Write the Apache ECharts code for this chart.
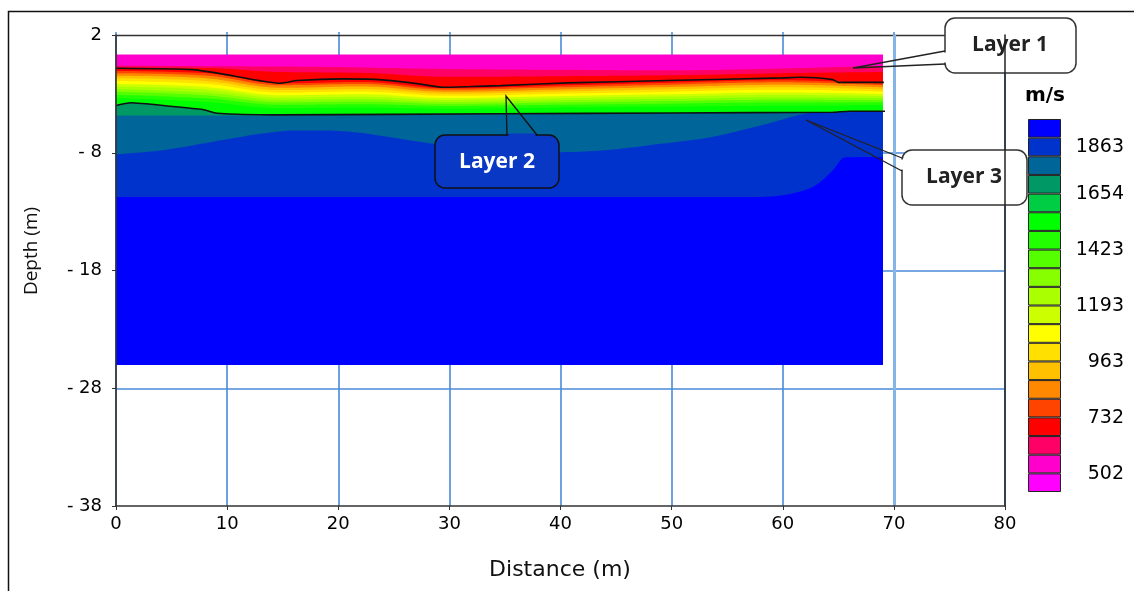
<!DOCTYPE html>
<html><head><meta charset="utf-8">
<script src="https://cdn.jsdelivr.net/npm/echarts@6/dist/echarts.min.js"></script>
<style>html,body{margin:0;padding:0;background:#fff}#c{width:1134px;height:591px}</style>
</head><body><div id="c"></div>
<script>
// ---------------- data ----------------
const yTickValues = [2, -8, -18, -28, -38];
const yTickLabels = ['2', '- 8', '- 18', '- 28', '- 38'];
const velocityLabels = ['502', '732', '963', '1193', '1423', '1654', '1863'];
const velocityLabelCell = [0.95, 3.95, 6.95, 9.95, 12.95, 15.95, 18.5];
// colour classes, low velocity -> high velocity
const palette = ['#ff00ff','#ff00cc','#ff0066','#ff0000','#ff4400','#ff8800','#ffc000','#ffe000','#ffff00','#ccff00',
                 '#aaff00','#88ff00','#55ff00','#22ff00','#00ff00','#00cc44','#009966','#006699','#0033cc','#0000ff'];

// upper boundaries of the velocity bands (distance m, depth m)
const bandX      = [0, 8, 15, 22, 30, 40, 50, 60, 69.02];
const edgeTop    = [0.35, 0.35, 0.35, 0.35, 0.35, 0.35, 0.35, 0.35, 0.35];
const edgeC2     = [-0.62, -0.65, -0.68, -0.75, -0.88, -0.95, -1.00, -0.85, -0.62];
const edgeC3     = [-0.75, -0.80, -1.15, -1.20, -1.55, -1.50, -1.42, -1.25, -1.15];
const edgeC4     = [-1.05, -1.23, -2.10, -1.99, -2.52, -2.28, -2.05, -1.85, -2.13];
const edgeC5     = [-1.24, -1.44, -2.27, -2.17, -2.66, -2.44, -2.22, -2.02, -2.28];
const edgeC6     = [-1.46, -1.67, -2.48, -2.37, -2.82, -2.62, -2.42, -2.23, -2.45];
const edgeC7     = [-1.68, -1.90, -2.68, -2.58, -2.99, -2.80, -2.61, -2.44, -2.63];
const edgeC8     = [-1.90, -2.14, -2.88, -2.79, -3.16, -2.98, -2.81, -2.65, -2.81];
const edgeC9     = [-2.16, -2.41, -3.11, -3.03, -3.35, -3.18, -3.03, -2.88, -3.01];
const edgeC10    = [-2.38, -2.64, -3.31, -3.24, -3.51, -3.36, -3.22, -3.09, -3.18];
const edgeC11    = [-2.60, -2.88, -3.51, -3.44, -3.68, -3.54, -3.42, -3.30, -3.36];
const edgeC12    = [-2.82, -3.11, -3.71, -3.65, -3.84, -3.73, -3.61, -3.50, -3.54];
const edgeC13    = [-3.07, -3.38, -3.94, -3.89, -4.03, -3.93, -3.83, -3.74, -3.74];
const edgeC14    = [-3.36, -3.68, -4.20, -4.16, -4.25, -4.16, -4.08, -4.01, -3.97];
const edgeC16    = [[0,-3.99],[1.3,-3.76],[4.9,-4.05],[7.8,-4.33],[9.1,-4.64],[14.5,-4.78],[34.6,-4.69],[50,-4.62],
                    [64.5,-4.56],[66,-4.47],[69.02,-4.47]];
const edgeC17    = [[0,-4.84],[13,-4.84],[14.5,-4.78],[34.6,-4.69],[50,-4.62],[64.5,-4.56],[66,-4.47],[69.02,-4.47]];
const edgeC18    = [[0,-8.14],[4,-7.81],[8.5,-7.10],[13,-6.39],[16,-6.11],[19,-6.11],[22,-6.31],[26.5,-6.96],[31,-7.53],
                    [35.5,-7.86],[40,-7.95],[44.5,-7.75],[49,-7.24],[53.5,-6.68],[58,-5.69],[61,-4.9],[62.5,-4.62],[65,-4.58],[69.02,-4.5]];
const edgeC19    = [[0,-11.76],[50,-11.76],[57,-11.76],[60,-11.6],[62.7,-10.9],[64.5,-9.5],[65.6,-8.4],[69.02,-8.37]];
const modelBottom = -26.03;

// interpreted layer boundaries
const layer1Line = [[0,-0.83],[6.9,-0.94],[9.4,-1.28],[14.8,-2.10],[16.3,-1.87],[20.4,-1.73],[24,-1.81],[27.1,-2.13],
                    [29.4,-2.44],[31.9,-2.38],[34.6,-2.30],[40.6,-2.07],[49.6,-1.87],[60,-1.64],[61.6,-1.59],[64.5,-1.79],
                    [65,-2.02],[69.1,-2.02]];
const layer2Line = [[0,-3.99],[1.3,-3.76],[4.9,-4.05],[7.8,-4.33],[9.1,-4.64],[14.5,-4.78],[34.6,-4.69],[50,-4.62],
                    [64.5,-4.56],[66,-4.47],[69.2,-4.47]];

// ---------------- build ----------------
const onX = arr => bandX.map((x, i) => [x, arr[i]]);
const bands = [
  [onX(edgeTop), 1], [onX(edgeC2), 2], [onX(edgeC3), 3], [onX(edgeC4), 4], [onX(edgeC5), 5],
  [onX(edgeC6), 6], [onX(edgeC7), 7], [onX(edgeC8), 8], [onX(edgeC9), 9], [onX(edgeC10), 10],
  [onX(edgeC11), 11], [onX(edgeC12), 12], [onX(edgeC13), 13], [onX(edgeC14), 14],
  [edgeC16, 16], [edgeC17, 17], [edgeC18, 18], [edgeC19, 19]
];

const AX = '#333';
const GRIDC = '#4a8ad8';
const series = [];
bands.forEach(([pts, ci]) => {
  series.push({
    type: 'line', xAxisIndex: 0, yAxisIndex: 0, data: pts, smooth: ci >= 16 ? 0.3 : 0.4,
    symbol: 'none', silent: true, z: 2,
    lineStyle: { width: 0 },
    areaStyle: { color: palette[ci], opacity: 1, origin: modelBottom }
  });
});
[layer1Line, layer2Line].forEach(pts => series.push({
  type: 'line', xAxisIndex: 0, yAxisIndex: 0, data: pts, smooth: 0.2, symbol: 'none', silent: true, z: 3,
  lineStyle: { color: '#111', width: 1.6 }
}));
palette.forEach(c => series.push({
  type: 'bar', xAxisIndex: 2, yAxisIndex: 2, stack: 'cb', data: [1], barWidth: '100%', silent: true,
  itemStyle: { color: c, borderColor: '#222', borderWidth: 1 }
}));
series.push({ type: 'line', xAxisIndex: 3, yAxisIndex: 3, data: [], silent: true });

const cbFmt = v => { const i = velocityLabelCell.findIndex(p => Math.abs(p - v) < 1e-6); return i >= 0 ? velocityLabels[i] : ''; };
const yFmt = v => { const i = yTickValues.findIndex(p => Math.abs(p - v) < 1e-6); return i >= 0 ? yTickLabels[i] : ''; };
const mainGrid = { left: 116, top: 35, width: 889, height: 471 };

const option = {
  animation: false,
  backgroundColor: '#fff',
  grid: [
    mainGrid,
    { left: 1028, top: 119, width: 33, height: 373 },
    mainGrid
  ],
  xAxis: [
    { type: 'value', gridIndex: 0, position: 'bottom', min: 0, max: 80, interval: 10, z: 10,
      axisLine: { show: true, onZero: false, lineStyle: { color: AX, width: 1.6 } },
      axisTick: { show: true, length: 4, lineStyle: { color: AX } },
      axisLabel: { fontFamily: 'DejaVu Sans', fontSize: 18, color: '#000', margin: 9 },
      splitLine: { show: false } },
    { type: 'value', gridIndex: 0, position: 'top', min: 0, max: 80, interval: 10, z: 0,
      axisLine: { show: true, onZero: false, lineStyle: { color: AX, width: 1.3 } },
      axisTick: { show: true, length: 3, lineStyle: { color: GRIDC, width: 1.5 } },
      axisLabel: { show: false },
      splitLine: { show: true, lineStyle: { color: GRIDC, width: 1.6 } } },
    { type: 'category', gridIndex: 1, data: [''], show: false },
    { type: 'value', gridIndex: 2, position: 'top', min: 0, max: 80, z: 1,
      axisLine: { show: false, onZero: false }, axisLabel: { show: false },
      axisTick: { show: false, customValues: [70] },
      splitLine: { show: true, lineStyle: { color: '#84b5e6', width: 3 } } }
  ],
  yAxis: [
    { type: 'value', gridIndex: 0, position: 'left', min: -38, max: 2, z: 10,
      axisLine: { show: true, onZero: false, lineStyle: { color: AX, width: 1.6 } },
      axisTick: { show: true, length: 4, customValues: yTickValues, lineStyle: { color: AX } },
      axisLabel: { customValues: yTickValues, formatter: yFmt, fontFamily: 'DejaVu Sans', fontSize: 18, color: '#000', margin: 14 },
      splitLine: { show: false } },
    { type: 'value', gridIndex: 0, position: 'right', min: -38, max: 2, z: 0,
      axisLine: { show: false, onZero: false }, axisLabel: { show: false },
      axisTick: { show: false, customValues: [-8, -18, -28] },
      splitLine: { show: true, lineStyle: { color: GRIDC, width: 1.6 } } },
    { type: 'value', gridIndex: 1, position: 'right', min: 0, max: 20,
      axisLine: { show: false, onZero: false }, axisTick: { show: false }, splitLine: { show: false },
      axisLabel: { customValues: velocityLabelCell, formatter: cbFmt, align: 'right', margin: 63,
        fontFamily: 'DejaVu Sans', fontSize: 19, color: '#000' } },
    { type: 'value', gridIndex: 2, position: 'right', min: -38, max: 2, z: 10,
      axisLine: { show: true, onZero: false, lineStyle: { color: '#222', width: 1.5 } },
      axisTick: { show: false }, axisLabel: { show: false }, splitLine: { show: false } }
  ],
  series: series,
  graphic: [
    { type: 'rect', z: 20, silent: true, shape: { x: 8.5, y: 11.5, width: 1300, height: 800 },
      style: { fill: 'transparent', stroke: '#111', lineWidth: 1.5 } },
    // Layer 1 callout
    { type: 'rect', z: 5, silent: true, shape: { x: 945, y: 18, width: 131, height: 55, r: 10 },
      style: { fill: '#fff', stroke: '#333', lineWidth: 1.5 } },
    { type: 'line', z: 6, silent: true, shape: { x1: 945, y1: 52.5, x2: 945, y2: 62.5 }, style: { stroke: '#fff', lineWidth: 3 } },
    { type: 'polyline', z: 6, silent: true, shape: { points: [[945, 51], [853, 68], [945, 64]] },
      style: { fill: null, stroke: '#222', lineWidth: 1.3 } },
    { type: 'text', z: 7, silent: true, x: 1010, y: 45,
      style: { text: 'Layer 1', font: 'bold 21px "Open Sans"', fill: '#222', align: 'center', verticalAlign: 'middle', textAlign: 'center', textVerticalAlign: 'middle' } },
    // Layer 3 callout
    { type: 'rect', z: 5, silent: true, shape: { x: 902, y: 150, width: 125, height: 55, r: 10 },
      style: { fill: '#fff', stroke: '#333', lineWidth: 1.5 } },
    { type: 'line', z: 6, silent: true, shape: { x1: 902, y1: 159.5, x2: 902, y2: 169.5 }, style: { stroke: '#fff', lineWidth: 3 } },
    { type: 'polyline', z: 6, silent: true, shape: { points: [[902, 158], [806, 120], [902, 171]] },
      style: { fill: null, stroke: '#222', lineWidth: 1.3 } },
    { type: 'text', z: 7, silent: true, x: 964, y: 177,
      style: { text: 'Layer 3', font: 'bold 21px "Open Sans"', fill: '#222', align: 'center', verticalAlign: 'middle', textAlign: 'center', textVerticalAlign: 'middle' } },
    // Layer 2 callout
    { type: 'rect', z: 5, silent: true, shape: { x: 435, y: 135, width: 124, height: 53, r: 10 },
      style: { fill: '#0838c4', stroke: '#111', lineWidth: 1.5 } },
    { type: 'line', z: 6, silent: true, shape: { x1: 508.5, y1: 135, x2: 535.5, y2: 135 }, style: { stroke: '#0838c4', lineWidth: 3 } },
    { type: 'polyline', z: 6, silent: true, shape: { points: [[507, 135], [506, 96], [537, 135]] },
      style: { fill: null, stroke: '#111', lineWidth: 1.3 } },
    { type: 'text', z: 7, silent: true, x: 497, y: 162,
      style: { text: 'Layer 2', font: 'bold 21px "Open Sans"', fill: '#fff', align: 'center', verticalAlign: 'middle', textAlign: 'center', textVerticalAlign: 'middle' } },
    // titles
    { type: 'text', z: 7, silent: true, x: 1045, y: 96,
      style: { text: 'm/s', font: 'bold 20px "DejaVu Sans"', fill: '#000', align: 'center', verticalAlign: 'middle', textAlign: 'center', textVerticalAlign: 'middle' } },
    { type: 'text', z: 7, silent: true, x: 560, y: 570,
      style: { text: 'Distance (m)', font: '22px "DejaVu Sans"', fill: '#111', align: 'center', verticalAlign: 'middle', textAlign: 'center', textVerticalAlign: 'middle' } },
    { type: 'text', z: 7, silent: true, x: 32, y: 251, rotation: Math.PI / 2,
      style: { text: 'Depth (m)', font: '19px "Open Sans"', fill: '#111', align: 'center', verticalAlign: 'middle', textAlign: 'center', textVerticalAlign: 'middle' } }
  ]
};
const chart = echarts.init(document.getElementById('c'), null, { renderer: 'canvas' });
chart.setOption(option);
</script></body></html>
